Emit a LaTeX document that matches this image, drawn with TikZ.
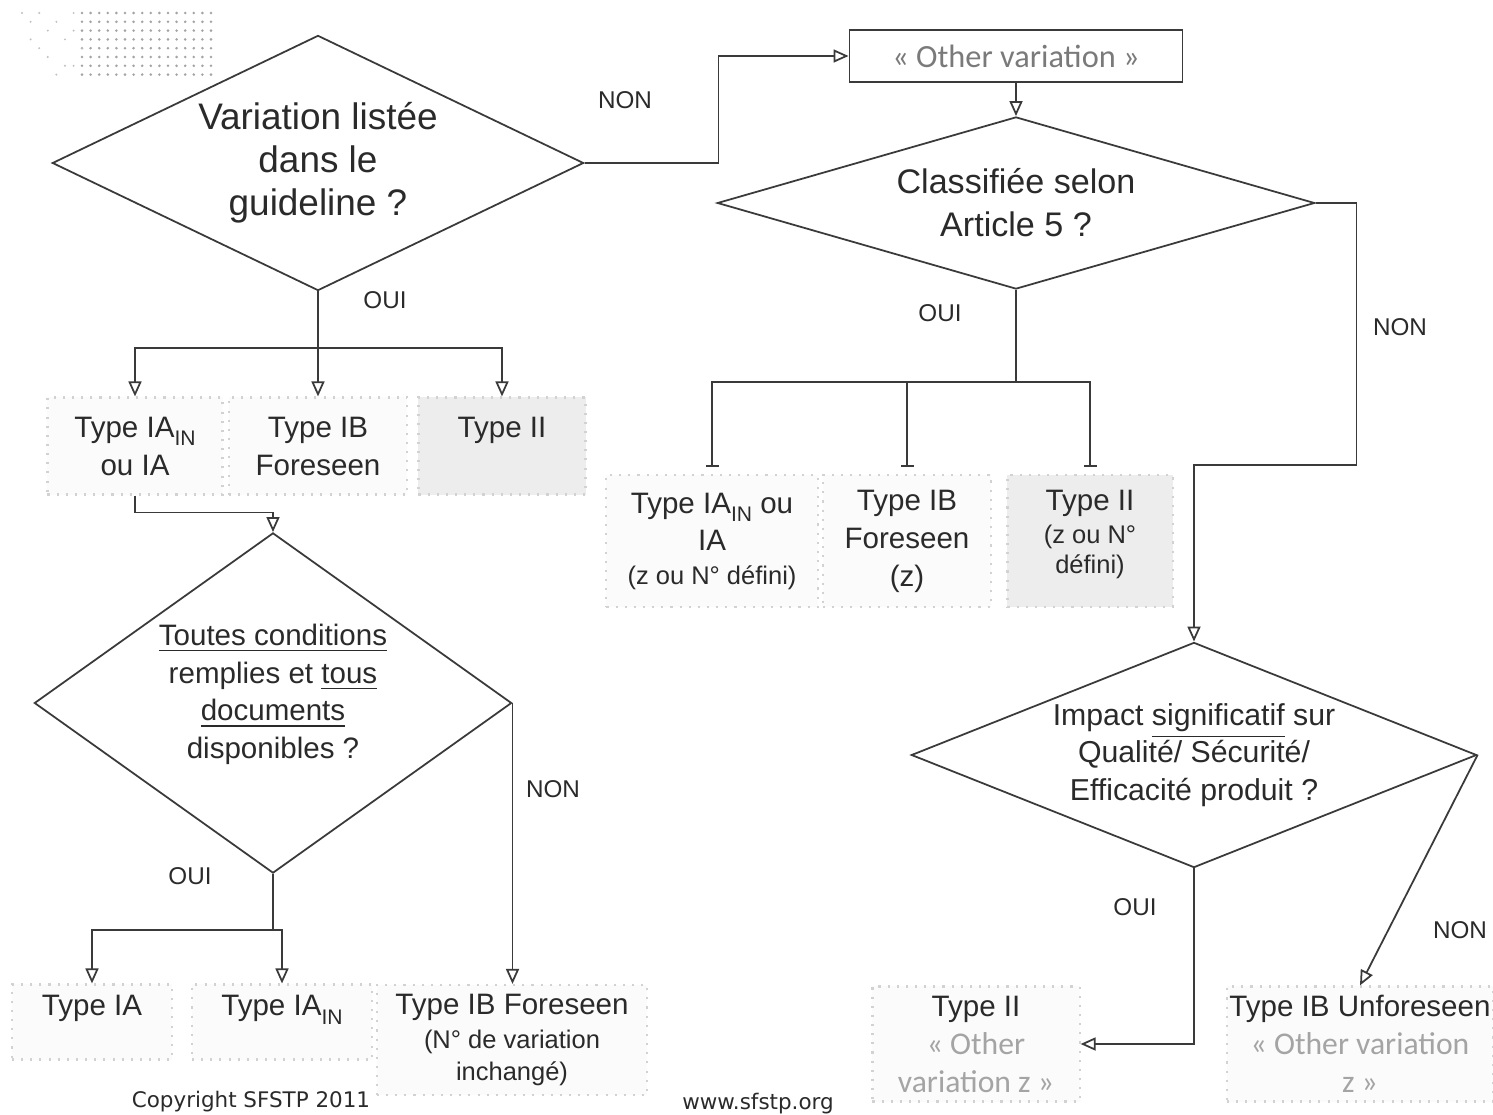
\documentclass[tikz,border=0pt]{standalone}
\usepackage{fontspec}
\setmainfont{Liberation Sans}
\newfontfamily\calfont{Carlito}
\newfontfamily\dvfont{DejaVu Sans}
\usetikzlibrary{shapes.geometric,arrows.meta,positioning,calc}
\definecolor{fcink}{HTML}{2A2A2A}
\definecolor{fcline}{HTML}{3A3A3A}
\definecolor{fcgrey}{HTML}{7A7A7A}
\definecolor{fcfaint}{HTML}{A4A4A4}
\definecolor{fcbox}{HTML}{D2D2D2}
\definecolor{fcfill}{HTML}{FBFBFB}
\definecolor{fcdark}{HTML}{EDEDED}
\newcommand{\fcsmall}{\fontsize{7.25}{8.8}\selectfont}
\newcommand{\fcother}{\calfont\fontsize{9}{10.5}\selectfont\color{fcfaint}}
\newcommand{\fcin}{\raisebox{-0.55ex}{\fontsize{6}{6}\selectfont IN}}
\tikzset{
  quest/.style={diamond,draw=fcline,line width=0.5pt,inner sep=0pt,
                align=center,text=fcink},
  res/.style={rectangle,draw=fcbox,dotted,line width=0.6pt,fill=fcfill,
              inner sep=0pt,align=center,text=fcink,
              font=\fontsize{8.4}{10.8}\selectfont},
  resdark/.style={res,fill=fcdark},
  ans/.style={font=\fontsize{6.9}{8}\selectfont,text=fcink},
  flow/.style={-{Triangle[open,length=1.5mm,width=1.3mm]},line width=0.5pt,draw=fcline},
  tie/.style={line width=0.5pt,draw=fcline},
  tick/.style={-{Bar[width=1.3mm]},line width=0.5pt,draw=fcline,shorten >=0.7mm},
}

\begin{document}
\begin{tikzpicture}[x=0.01cm,y=-0.01cm]
  \fill[white] (0,0) rectangle (1493,1115);
  \useasboundingbox (0,0) rectangle (1493,1115);

  % logo dots
  \foreach \i in {0,...,15}
    \foreach \j in {0,...,7}
      \fill[fcfaint] (82+\i*8.6,13+\j*8.8) circle[radius=0.4pt];
  \foreach \i/\j in {0/0,1/1,2/0,3/2,1/3,4/1,5/3,2/4,6/0,3/5,6/2,5/6,7/4,4/7,6/6}
    \fill[fcfaint!70] (22+\i*8.6,13+\j*8.8) circle[radius=0.3pt];

  % questions
  \node[quest,minimum width=5.31cm,minimum height=2.55cm,aspect=2.08,
        font=\fontsize{10.5}{12.2}\selectfont] (q1) at (318,163)
        {Variation listée\\dans le\\guideline ?};
  \node[rectangle,draw=fcline,line width=0.5pt,minimum width=3.33cm,minimum height=0.52cm,
        font=\calfont\fontsize{9.2}{11}\selectfont,text=fcgrey] (other) at (1016,56)
        {« Other variation »};
  \node[quest,minimum width=5.97cm,minimum height=1.72cm,aspect=3.47,
        font=\fontsize{9.7}{12.2}\selectfont] (q2) at (1016,203)
        {Classifiée selon\\Article 5 ?};
  \node[quest,minimum width=4.77cm,minimum height=3.40cm,aspect=1.4,
        font=\fontsize{8.4}{10.7}\selectfont] (q3) at (273,703)
        {\underline{Toutes conditions}\\remplies et \underline{tous}\\\underline{documents}\\disponibles ?\\[-4pt]\phantom{x}};
  \node[quest,minimum width=5.65cm,minimum height=2.25cm,aspect=2.51,
        font=\fontsize{8.6}{10.7}\selectfont] (q4) at (1194,755)
        {Impact \underline{significatif} sur\\Qualité/ Sécurité/\\Efficacité produit ?};

  % results
  \node[res,minimum width=1.75cm,minimum height=0.97cm] (b1) at (135,446) {Type IA\fcin\\ou IA};
  \node[res,minimum width=1.78cm,minimum height=0.97cm] (b2) at (318,446) {Type IB\\Foreseen};
  \node[resdark,minimum width=1.67cm,minimum height=0.97cm] (b3) at (502,446) {Type II\\\phantom{X}};

  \node[res,minimum width=2.11cm,minimum height=1.32cm] (r1) at (712,541)
        {Type IA\fcin{} ou\\IA\\[-1.4pt]{\fcsmall (z ou N° défini)}};
  \node[res,minimum width=1.68cm,minimum height=1.32cm] (r2) at (907,541) {Type IB\\Foreseen\\(z)};
  \node[resdark,minimum width=1.65cm,minimum height=1.32cm] (r3) at (1090,541)
        {Type II\\[-1.4pt]{\fcsmall (z ou N°}\\[-2.3pt]{\fcsmall défini)}\\[-5.5pt]\phantom{x}};

  \node[res,minimum width=1.6cm,minimum height=0.75cm] (c1) at (92,1022) {Type IA\\[-1.5pt]\phantom{X}};
  \node[res,minimum width=1.8cm,minimum height=0.75cm] (c2) at (282,1022) {Type IA\fcin\\[-1.5pt]\phantom{X}};
  \node[res,minimum width=2.7cm,minimum height=1.1cm] (c3) at (512,1040)
        {Type IB Foreseen\\[-0.9pt]{\fcsmall (N° de variation}\\[-1.7pt]{\fcsmall inchangé)}};

  \node[res,minimum width=2.07cm,minimum height=1.15cm] (d1) at (976,1044)
        {Type II\\{\fcother « Other}\\{\fcother variation z »}};
  \node[res,minimum width=2.66cm,minimum height=1.15cm] (d2) at (1360,1044)
        {Type IB Unforeseen\\{\fcother « Other variation}\\{\fcother z »}};

  % answers
  \node[ans] (a1) at (625,100) {NON};
  \node[ans] (a2) at (385,300) {OUI};
  \node[ans] (a3) at (940,313) {OUI};
  \node[ans] (a4) at (1400,327) {NON};
  \node[ans] (a5) at (553,789) {NON};
  \node[ans] (a6) at (190,876) {OUI};
  \node[ans] (a7) at (1135,907) {OUI};
  \node[ans] (a8) at (1460,930) {NON};

  % connectors
  \draw[flow] (q1.east) -- ++(134,0) |- (other.west);
  \draw[flow] (other.south) -- (q2.north);
  \coordinate (j1) at (318,348);
  \draw[tie] (q1.south) -- (j1);
  \foreach \b in {b1,b2,b3}
    \draw[flow] (j1) -| (\b.north);
  \draw[flow] (b1.south) -- ++(0,17) -| (q3.north);
  \coordinate (j3) at (273,930);
  \draw[tie] (q3.south) -- (j3);
  \foreach \c in {c1,c2}
    \draw[flow] (j3) -| (\c.north);
  \draw[flow] (q3.east) -- (q3.east |- c3.north);
  \coordinate (j2) at (1016,382);
  \draw[tie] (q2.south) -- (j2);
  \foreach \r in {r1,r2,r3}
    \draw[tick] (j2) -| (\r.north);
  \draw[flow] (q2.east) -- ++(41,0) -- ++(0,262) -| (q4.north);
  \draw[flow] (q4.south) |- (d1.east);
  \draw[flow] (q4.east) -- (d2.north);

  \node[font=\dvfont\fontsize{6.1}{7}\selectfont,text=fcink] (copy) at (251,1102) {Copyright SFSTP 2011};
  \node[font=\dvfont\fontsize{6.1}{7}\selectfont,text=fcink] (web) at (758,1104) {www.sfstp.org};
\end{tikzpicture}
\end{document}
